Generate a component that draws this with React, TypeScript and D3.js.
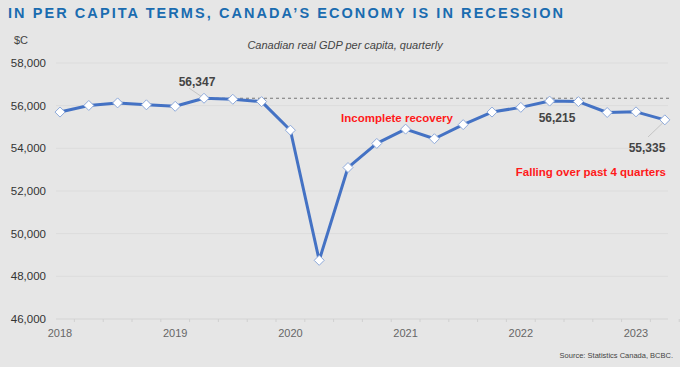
import { useMemo } from "react";
import * as d3 from "d3";

// quarterly real GDP per capita, 2018Q1 .. 2023Q2
const QUARTERS = [
  "2018Q1", "2018Q2", "2018Q3", "2018Q4",
  "2019Q1", "2019Q2", "2019Q3", "2019Q4",
  "2020Q1", "2020Q2", "2020Q3", "2020Q4",
  "2021Q1", "2021Q2", "2021Q3", "2021Q4",
  "2022Q1", "2022Q2", "2022Q3", "2022Q4",
  "2023Q1", "2023Q2",
];
const GDP = [
  55700, 56010, 56130, 56040,
  55970, 56347, 56300, 56190,
  54850, 48750, 53100, 54230,
  54900, 54450, 55110, 55700,
  55920, 56215, 56190, 55680,
  55710, 55335,
];
const YEARS = [2018, 2019, 2020, 2021, 2022, 2023];
const Y_TICKS = [46000, 48000, 50000, 52000, 54000, 56000, 58000];

const W = 680;
const H = 367;
const BLUE = "#4472c4";
const FONT = "'Liberation Sans', Arial, sans-serif";

export default function App() {
  const margin = { top: 63, right: 15, bottom: 48, left: 60 };

  const qIndex = (q: string) => {
    const yr = +q.slice(0, 4);
    const n = +q.slice(5);
    return (yr - 2018) * 4 + (n - 1);
  };

  const x = useMemo(
    () => d3.scaleLinear().domain([0, 20]).range([60, 636]),
    []
  );
  const y = useMemo(
    () => d3.scaleLinear().domain([46000, 58000]).range([H - margin.bottom, margin.top]),
    []
  );

  const pts = QUARTERS.map((q, i) => ({ q, i: qIndex(q), v: GDP[i] }));
  const line = d3
    .line<{ i: number; v: number }>()
    .x((d) => x(d.i))
    .y((d) => y(d.v));

  const peak = pts[5];
  const mid = pts[17];
  const last = pts[pts.length - 1];
  const fmt = d3.format(",");

  const diamond = (cx: number, cy: number, r = 5) =>
    `M${cx},${cy - r}L${cx + r},${cy}L${cx},${cy + r}L${cx - r},${cy}Z`;

  const minorTicks = d3.range(0, 23);

  return (
    <svg
      width={W}
      height={H}
      style={{ position: "absolute", left: 0, top: 0, background: "#e6e6e6" }}
      fontFamily={FONT}
    >
      <rect width={W} height={H} fill="#e6e6e6" />
      <text
        x={8}
        y={18}
        fontSize={14.5}
        fontWeight="bold"
        fill="#1a6cb0"
        textLength={555}
        lengthAdjust="spacing"
      >
        IN PER CAPITA TERMS, CANADA’S ECONOMY IS IN RECESSION
      </text>
      <text x={14} y={44} fontSize={11} fill="#444">$C</text>
      <text x={345} y={49} fontSize={11} fontStyle="italic" fill="#444" textAnchor="middle">
        Canadian real GDP per capita, quarterly
      </text>

      {/* gridlines */}
      {Y_TICKS.map((t) => (
        <line key={t} x1={56} x2={668} y1={y(t)} y2={y(t)} stroke={t === 46000 ? "#d4d4d4" : "#dcdcdc"} strokeWidth={1} />
      ))}
      {minorTicks.map((k) => (
        <line key={k} x1={x(k - 0.5)} x2={x(k - 0.5)} y1={y(46000)} y2={y(46000) + 3} stroke="#d0d0d0" />
      ))}
      {Y_TICKS.map((t) => (
        <text key={t} x={46} y={y(t) + 4} fontSize={11.5} fill="#333" textAnchor="end">
          {fmt(t)}
        </text>
      ))}
      {YEARS.map((yr) => (
        <text key={yr} x={x((yr - 2018) * 4)} y={337} fontSize={11} fill="#666" textAnchor="middle">
          {yr}
        </text>
      ))}

      {/* previous peak reference */}
      <line
        x1={x(peak.i)}
        x2={672}
        y1={y(peak.v)}
        y2={y(peak.v)}
        stroke="#777"
        strokeWidth={1}
        strokeDasharray="3,3"
      />

      <path d={line(pts) ?? ""} fill="none" stroke={BLUE} strokeWidth={3} strokeLinejoin="round" />
      {pts.map((p) => (
        <path key={p.q} d={diamond(x(p.i), y(p.v))} fill="#fff" stroke="#8eaadb" strokeWidth={1} />
      ))}

      {/* annotations */}
      <line x1={189} y1={88} x2={x(peak.i) - 3} y2={y(peak.v) - 2} stroke="#bbb" strokeWidth={0.8} />
      <text x={197} y={86} fontSize={12} fontWeight="bold" fill="#444" textAnchor="middle">
        {fmt(peak.v)}
      </text>
      <text x={557} y={122} fontSize={12} fontWeight="bold" fill="#444" textAnchor="middle">
        {fmt(mid.v)}
      </text>
      <line x1={648} y1={137} x2={x(last.i) - 2} y2={y(last.v) + 3} stroke="#bbb" strokeWidth={0.8} />
      <text x={647} y={152} fontSize={12} fontWeight="bold" fill="#444" textAnchor="middle">
        {fmt(last.v)}
      </text>
      <text x={397} y={122} fontSize={11.5} fontWeight="bold" fill="#ff1a1a" textAnchor="middle">
        Incomplete recovery
      </text>
      <text x={666} y={176} fontSize={11.5} fontWeight="bold" fill="#ff1a1a" textAnchor="end">
        Falling over past 4 quarters
      </text>

      <text x={673} y={358} fontSize={7.5} fill="#444" textAnchor="end">
        Source: Statistics Canada, BCBC.
      </text>
    </svg>
  );
}
